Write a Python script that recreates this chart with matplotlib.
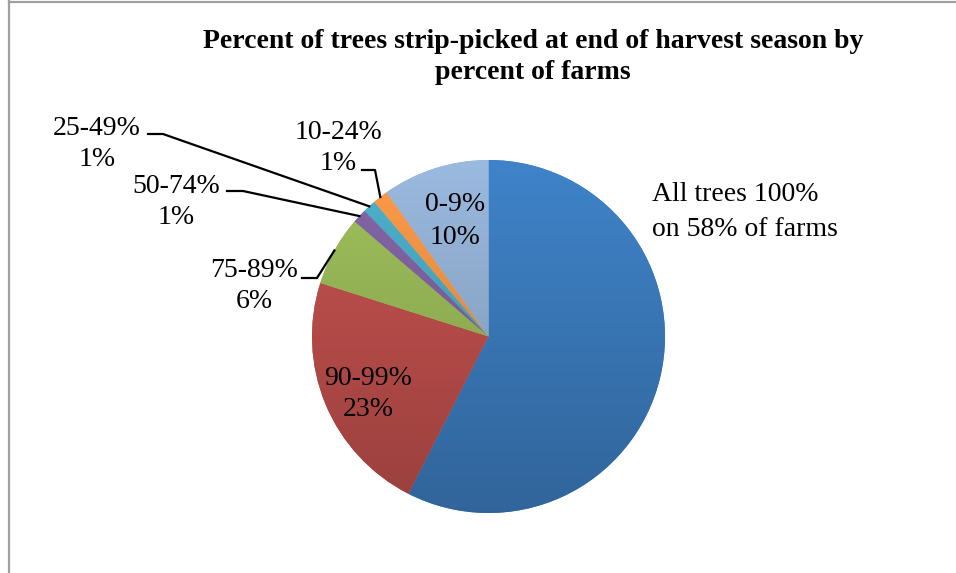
"""
pie chart: percent of trees strip-picked at end of harvest season
"""
import numpy as np
import matplotlib
matplotlib.use("Agg")
from matplotlib import pyplot as plt
from matplotlib.colors import to_rgb
from matplotlib.lines import Line2D

W, H = 956, 573

# slice data, clockwise from 12 o'clock
categories = ["All trees 100%", "90-99%", "75-89%", "50-74%", "25-49%", "10-24%", "0-9%"]
values = [57.5, 22.4, 6.4, 1.3, 1.2, 1.4, 9.8]
shown_pct = ["58%", "23%", "6%", "1%", "1%", "1%", "10%"]
colors = ["#3d7ec1", "#c0504d", "#9bbb59", "#8064a2", "#4bacc6", "#f79646", "#95b3d7"]

title = "Percent of trees strip-picked at end of harvest season by\npercent of farms"

LABEL_FONT = "Liberation Serif"
LABEL_SIZE = 20


def px(x, y):
    """ convert pixel coords (y down) to data coords (y up) """
    return x, H - y


fig = plt.figure(figsize=(W / 100, H / 100), dpi=100)
ax = fig.add_axes([0, 0, 1, 1])
ax.set_axis_off()

center = px(488.5, 336.5)
radius = 176.5

wedges, _ = ax.pie(
    values,
    colors=colors,
    startangle=90,
    counterclock=False,
    center=center,
    radius=radius,
    wedgeprops=dict(linewidth=0),
)

# office style vertical gradient on each slice
top_y = center[1] + radius
bot_y = center[1] - radius
for wedge, c in zip(wedges, colors):
    base = np.array(to_rgb(c))
    t = np.linspace(0, 1, 200)[:, None]
    light = np.clip(base * 1.04, 0, 1)
    dark = base * 0.80
    grad = light * (1 - t) + dark * t
    img = ax.imshow(
        grad[:, None, :],
        extent=(center[0] - radius, center[0] + radius, bot_y, top_y),
        origin="upper",
        aspect="auto",
        zorder=wedge.get_zorder() + 0.1,
        interpolation="bilinear",
    )
    img.set_clip_path(wedge)

ax.set_xlim(0, W)
ax.set_ylim(0, H)
ax.set_aspect("equal")


def edge_point(wedge):
    mid = np.deg2rad((wedge.theta1 + wedge.theta2) / 2)
    return center[0] + radius * np.cos(mid), center[1] + radius * np.sin(mid)


# label layout: text centre (px), alignment, line spacing, leader start and elbow (px)
label_layout = [
    dict(xy=(652, 212), ha="left", ls=1.55, leader=None),
    dict(xy=(368, 394), ha="center", ls=1.35, leader=None),
    dict(xy=(254, 286), ha="center", ls=1.3, leader=[(302, 278), (317, 278)]),
    dict(xy=(176, 202), ha="center", ls=1.3, leader=[(227, 191), (243, 191)]),
    dict(xy=(97, 144), ha="center", ls=1.3, leader=[(148, 134), (163, 134)]),
    dict(xy=(338, 148), ha="center", ls=1.3, leader=[(362, 170), (375, 170)]),
    dict(xy=(455, 221), ha="center", ls=1.4, leader=None),
]

for i, (name, pct, lay) in enumerate(zip(categories, shown_pct, label_layout)):
    if i == 0:
        txt = f"{name}\non {pct} of farms"
    else:
        txt = f"{name}\n{pct}"
    x, y = px(*lay["xy"])
    ax.text(x, y, txt, ha=lay["ha"], va="center", multialignment=lay["ha"],
            fontsize=LABEL_SIZE, family=LABEL_FONT, color="black",
            linespacing=lay["ls"], zorder=5)
    if lay["leader"]:
        pts = [px(*p) for p in lay["leader"]] + [edge_point(wedges[i])]
        xs, ys = zip(*pts)
        ax.add_line(Line2D(xs, ys, color="black", linewidth=1.6, zorder=5))

fig.text(533 / W, 1 - 57 / H, title, ha="center", va="center",
         fontsize=20, fontweight="bold", family=LABEL_FONT, linespacing=1.35)

# chart area border (left and top edges visible)
fig.add_artist(Line2D([8.5 / W, 8.5 / W], [0, 1 - 1 / H], transform=fig.transFigure,
                      color="#a0a0a0", linewidth=1.6))
fig.add_artist(Line2D([8.5 / W, 1], [1 - 1.5 / H, 1 - 1.5 / H], transform=fig.transFigure,
                      color="#a0a0a0", linewidth=1.6))

fig.savefig("out.png", dpi=100)
